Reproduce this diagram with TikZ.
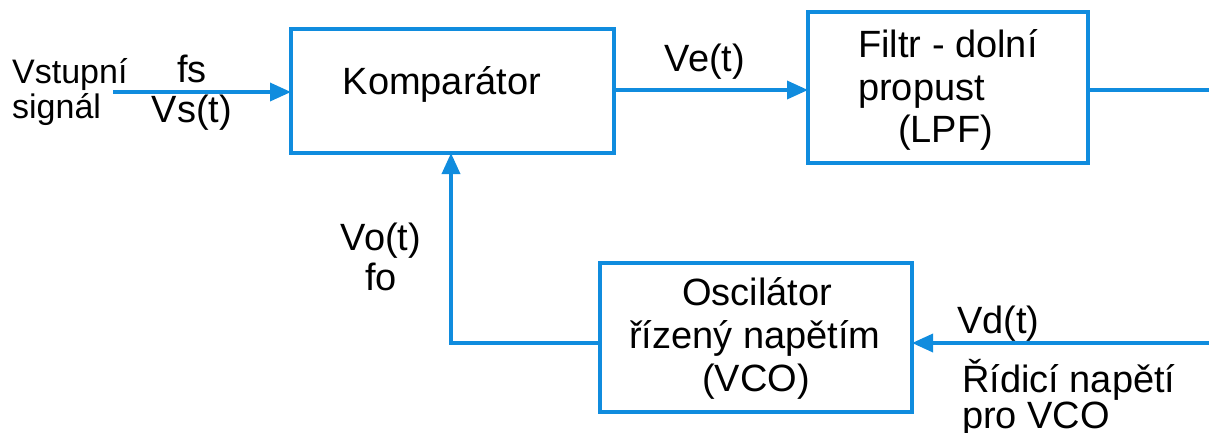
\documentclass[tikz,border=0pt]{standalone}
\usepackage{fontspec}
\setmainfont{Liberation Sans}
\usetikzlibrary{arrows.meta}
\definecolor{pllblue}{RGB}{16,140,222}
\begin{document}
\begin{tikzpicture}[x=1pt,y=-1pt,
  blk/.style={draw=pllblue,line width=3.5pt,inner sep=0pt,outer sep=0pt,fill=none},
  wire/.style={draw=pllblue,line width=3.5pt},
  arr/.style={wire,-{Triangle[length=21pt,width=18pt]}},
  txt/.style={inner sep=0pt,font=\fontsize{38}{43}\selectfont},
  stxt/.style={inner sep=0pt,font=\fontsize{34}{38}\selectfont}]
\useasboundingbox (0,0) rectangle (1209,432);
% blocks
\node[blk,minimum width=323pt,minimum height=124pt] (komp) at (452.5,91) {};
\node[blk,minimum width=280pt,minimum height=151pt] (filt) at (948,87.5) {};
\node[blk,minimum width=312pt,minimum height=149pt] (vco) at (756,337.5) {};
% coordinates
\coordinate (inL) at (113,92);
\coordinate (outR) at (1209,90);
\coordinate (vdR) at (1209,343);
\coordinate (fbS) at (vco.west |- vdR);
\coordinate (fbC) at (451,343);
% connectors
\draw[arr] (inL) -- (inL -| komp.west);
\draw[arr] (komp.east |- outR) -- (filt.west |- outR);
\draw[wire] (filt.east |- outR) -- (outR);
\draw[arr] (vdR) -- (vdR -| vco.east);
\draw[arr] (fbS) -- (fbC) -- (fbC |- komp.south);
% texts
\node[stxt,anchor=base west] (t1) at (12,83) {Vstupní};
\node[stxt,anchor=base west] (t2) at (12,118) {signál};
\node[txt,anchor=base] (t3) at (192,82) {fs};
\node[txt,anchor=base] (t4) at (192,122) {Vs(t)};
\node[txt,anchor=base] (t5) at (442,94) {Komparátor};
\node[txt,anchor=base] (t6) at (705,71) {Ve(t)};
\node[txt,anchor=base west] (t7) at (858,57) {Filtr - dolní};
\node[txt,anchor=base west] (t8) at (858,100) {propust};
\node[txt,anchor=base west] (t9) at (898,142) {(LPF)};
\node[txt,anchor=base] (t10) at (381,250) {Vo(t)};
\node[txt,anchor=base] (t11) at (381,290) {fo};
\node[txt,anchor=base] (t12) at (757,305) {Oscilátor};
\node[txt,anchor=base] (t13) at (755,348) {řízený napětím};
\node[txt,anchor=base] (t14) at (756,391) {(VCO)};
\node[txt,anchor=base west] (t15) at (957,333) {Vd(t)};
\node[txt,anchor=base west] (t16) at (962,392) {Řídicí napětí};
\node[txt,anchor=base west] (t17) at (962,428) {pro VCO};
\end{tikzpicture}
\end{document}
